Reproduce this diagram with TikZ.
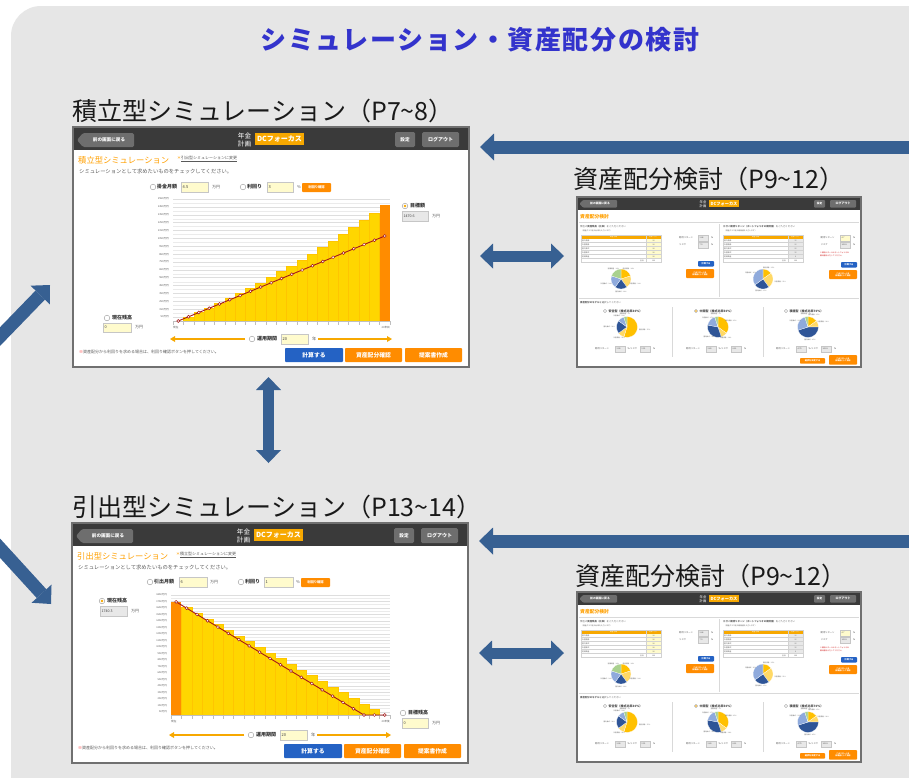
\documentclass[tikz,border=0pt]{standalone}
\usepackage{fontspec}
\setmainfont{Noto Sans CJK JP}
\usetikzlibrary{arrows.meta}
\definecolor{bggray}{RGB}{230,230,230}
\definecolor{arrblue}{RGB}{55,96,146}
\definecolor{ttlblue}{RGB}{51,51,204}
\definecolor{hdrgray}{RGB}{58,58,58}
\definecolor{frgray}{RGB}{112,112,112}
\definecolor{btngray}{RGB}{110,110,110}
\definecolor{dcorange}{RGB}{247,168,0}
\definecolor{btnorange}{RGB}{255,140,0}
\definecolor{ttlorange}{RGB}{255,160,0}
\definecolor{btnblue}{RGB}{36,98,196}
\definecolor{baryel}{RGB}{255,214,0}
\definecolor{barorg}{RGB}{255,140,0}
\definecolor{linered}{RGB}{165,25,25}
\definecolor{inyel}{RGB}{255,251,205}
\definecolor{ingray}{RGB}{232,232,232}
\definecolor{txtgray}{RGB}{90,90,90}
\definecolor{gridgray}{RGB}{222,222,222}
\definecolor{pyel}{RGB}{255,192,0}
\definecolor{plyel}{RGB}{255,217,102}
\definecolor{pdblue}{RGB}{47,85,151}
\definecolor{pgblue}{RGB}{143,170,220}
\definecolor{pgreen}{RGB}{169,209,142}
\newcommand\fsz[1]{\fontsize{#1}{#1}\selectfont}
\tikzset{
 shot/.style={draw=frgray, line width=2.4pt, fill=white, inner sep=0pt, outer sep=0pt, anchor=north west},
 lbl/.style={anchor=west, inner sep=0pt, font=\fsz{25}, text=black!90},
 wtxt/.style={text=white, inner sep=0pt},
 porarrow/.style={draw=dcorange, line width=1.8pt, arrows={-Triangle[width=6pt,length=5pt,line width=0pt]}},
 bigarrow/.style={draw=arrblue, line width=13pt, arrows={-Triangle[width=27pt,length=14pt,line width=0pt]}},
 dblarrow/.style={draw=arrblue, line width=11pt, arrows={Triangle[width=25pt,length=13pt,line width=0pt]-Triangle[width=25pt,length=13pt,line width=0pt]}},
}
\newcommand\Txt[3]{\node[anchor=west,inner sep=0pt,font=\fsz{#2},text=txtgray] at (#1) {#3};}
\newcommand\BTxt[3]{\node[anchor=west,inner sep=0pt,font=\fsz{#2}\bfseries,text=black!80] at (#1) {#3};}
\newcommand\RadioOff[2]{\filldraw[fill=white,draw=gray!80,line width=0.4pt] (#1) circle (#2);}
\newcommand\RadioOn[2]{\RadioOff{#1}{#2}\fill[dcorange] (#1) circle ({#2*0.5});}
\newcommand\InBox[7]{\filldraw[fill=#5,draw=gray!45,line width=0.3pt] (#1,#2) rectangle (#3,#4);
 \node[anchor=west,inner sep=0pt,font=\fsz{#7},text=black!75] at ({#1+1.5},{(#2+#4)/2}) {#6};}
\newcommand\Btn[7]{\fill[#5, rounded corners=0.8pt] (#1,#2) rectangle (#3,#4);
 \node[wtxt, font=\fsz{#7}\bfseries, align=center] at ({(#1+#3)/2},{(#2+#4)/2}) {#6};}
% pie: slices clockwise from the top; angles here are visual (canvas) angles
\newcommand\Pie[4]{%
 \foreach \sA/\sB/\sC/\sT in {#4}{%
  \pgfmathsetmacro\psa{90-3.6*\sA}%
  \pgfmathsetmacro\pea{90-3.6*\sB}%
  \pgfmathsetmacro\pma{(\psa+\pea)/2}%
  \pgfmathtruncatemacro\pan{mod(\pma+180+720,360)}%
  \filldraw[fill=\sC, draw=white, line width=0.2pt] (#1,#2) -- ++({cos(\psa)*#3},{-sin(\psa)*#3}) arc[start angle=\psa, end angle=\pea, radius=#3 pt] -- cycle;
  \path (#1,#2) ++({cos(\pma)*(#3+1.2)},{-sin(\pma)*(#3+1.2)}) node[anchor=\pan, inner sep=0.3pt, font=\fsz{1.6}, text=txtgray] {\sT};
 }}
\newcommand\AllocTable[4]{%
 \begin{scope}[shift={(#1,#2)}]
  \fill[#3] (65,3.5) rectangle (80,23.5);
  \fill[dcorange] (0,0) rectangle (80,3.5);
  \node[wtxt,font=\fsz{1.8}] at (32.5,1.75) {資産分類};
  \node[wtxt,font=\fsz{1.8}] at (72.5,1.75) {比率（\%）};
  \foreach \n/\vv [count=\kk] in {#4}{
   \draw[gray!35,line width=0.25pt] (0,{3.5+4*\kk}) -- (80,{3.5+4*\kk});
   \node[anchor=west,inner sep=0pt,font=\fsz{1.8},text=txtgray] at (1,{1.5+4*\kk}) {\n};
   \node[inner sep=0pt,font=\fsz{1.8},text=txtgray] at (72.5,{1.5+4*\kk}) {\vv};
  }
  \draw[gray!35,line width=0.25pt] (0,0) rectangle (80,27.5);
  \draw[gray!35,line width=0.25pt] (65,0) -- (65,27.5);
  \node[anchor=east,inner sep=0pt,font=\fsz{1.8},text=txtgray] at (63,25.5) {合計};
  \node[inner sep=0pt,font=\fsz{1.8},text=txtgray] at (72.5,25.5) {100};
 \end{scope}}
\newcommand\AllocCol[6]{%
 \ifnum#3=1 \RadioOn{{#1-22},114}{1.6pt}\else\RadioOff{{#1-22},114}{1.6pt}\fi
 \node[anchor=west,inner sep=0pt,font=\fsz{3}\bfseries,text=black!75] at ({#1-18.5},114) {#2};
 \Pie{#1}{130}{10.5}{#6}
 \Txt{{#1-32},152}{2.3}{期待リターン}
 \InBox{#1-12}{149}{#1-2}{155}{ingray}{#4}{2}
 \Txt{{#1+0.5},152}{2.3}{\%}
 \Txt{{#1+3},152}{2.3}{リスク}
 \InBox{#1+13}{149}{#1+23}{155}{ingray}{#5}{2}
 \Txt{{#1+26},152}{2.3}{\%}}
\newcommand\SimShot[4]{%
 \node[shot, minimum width=396pt, minimum height=240pt] (#2) at (#1) {};
 \begin{scope}[shift={(#1)}]
  \fill[hdrgray] (1.2,1.2) rectangle (394.8,23);
  \fill[btngray, rounded corners=1.5pt] (4,13) -- (10,6) -- (61,6) -- (61,20) -- (10,20) -- cycle;
  \node[wtxt,font=\fsz{4.6}\bfseries] at (36,13) {前の画面に戻る};
  \node[wtxt,font=\fsz{6.6}] at (171.5,8.8) {年金};
  \node[wtxt,font=\fsz{6.6}] at (171.5,16.6) {計画};
  \fill[dcorange] (182,6) rectangle (231,18);
  \node[wtxt,font=\fsz{7}\bfseries] at (206.5,12) {DCフォーカス};
  \fill[btngray, rounded corners=1.5pt] (322,5) rectangle (342,20);
  \node[wtxt,font=\fsz{4.6}\bfseries] at (332,12.5) {設定};
  \fill[btngray, rounded corners=1.5pt] (349,5) rectangle (386,20);
  \node[wtxt,font=\fsz{5}\bfseries] at (367.5,12.5) {ログアウト};
  \node[anchor=west,inner sep=0pt,text=ttlorange,font=\fsz{8.3}] at (5,33) {#3};
  \node[anchor=west,inner sep=0pt,text=txtgray,font=\fsz{4}] at (104,32) {{\color{ttlorange}＊}\underline{#4}};
  \Txt{6,44}{5.3}{シミュレーションとして求めたいものをチェックしてください。}
  \draw[porarrow] (172,212) -- (97,212);
  \draw[porarrow] (245,212) -- (319,212);
  \RadioOff{179,212}{2.8pt}
  \BTxt{184,212}{5}{運用期間}
  \InBox{208}{207}{235}{217}{inyel}{20}{4}
  \Txt{239,212}{4.2}{年}
  \node[anchor=west,inner sep=0pt,text=txtgray,font=\fsz{4}] at (6,225) {{\color{red}※}資産配分から利回りを求める場合は、利回り確認ボタンを押してください。};
  \Btn{212}{221}{270}{235}{btnblue}{計算する}{5.8}
  \Btn{272}{221}{329}{235}{btnorange}{資産配分確認}{5.8}
  \Btn{332}{221}{389}{235}{btnorange}{提案書作成}{5.8}
 \end{scope}}
\newcommand\AllocShot[2]{%
 \node[shot, minimum width=284pt, minimum height=170pt] (#2) at (#1) {};
 \begin{scope}[shift={(#1)}]
  \fill[hdrgray] (1.2,1.2) rectangle (282.8,12.5);
  \fill[btngray, rounded corners=1pt] (2.5,6.8) -- (6,3) -- (40,3) -- (40,10.6) -- (6,10.6) -- cycle;
  \node[wtxt,font=\fsz{2.8}\bfseries] at (23,6.8) {前の画面に戻る};
  \node[wtxt,font=\fsz{3.3}] at (126,4.8) {年金};
  \node[wtxt,font=\fsz{3.3}] at (126,9) {計画};
  \fill[dcorange] (132,3.2) rectangle (162,10.2);
  \node[wtxt,font=\fsz{4.2}\bfseries] at (147,6.7) {DCフォーカス};
  \fill[btngray, rounded corners=1pt] (237,3) rectangle (248,10.6);
  \node[wtxt,font=\fsz{2.6}\bfseries] at (242.5,6.8) {設定};
  \fill[btngray, rounded corners=1pt] (253,3) rectangle (279,10.6);
  \node[wtxt,font=\fsz{3}\bfseries] at (266,6.8) {ログアウト};
  \node[anchor=west,inner sep=0pt,text=ttlorange,font=\fsz{4.8}\bfseries] at (3,20) {資産配分検討};
  \draw[gray!30,line width=0.4pt] (2,25) -- (282,25);
  \draw[gray!30,line width=0.4pt] (142,27) -- (142,100);
  \draw[gray!30,line width=0.4pt] (2,101) -- (282,101);
  \draw[gray!30,line width=0.4pt] (95,110) -- (95,160);
  \draw[gray!30,line width=0.4pt] (186,110) -- (186,160);
  \Txt{3,30}{2.4}{現在の{\bfseries 資産残高（比率）}をご入力ください}
  \Txt{4,34}{1.8}{（資産クラス別の比率を入力します）}
  \AllocTable{4}{38}{inyel}{国内債券/20,外国債券/20,国内株式/20,外国株式/20,短期資産/20}
  \Txt{102,41}{2.3}{期待リターン}
  \InBox{121}{38}{131}{44}{ingray}{3.48}{2}
  \Txt{134,41}{2.3}{\%}
  \Txt{102,48}{2.3}{リスク}
  \InBox{121}{45}{131}{51}{ingray}{7.9}{2}
  \Txt{134,48}{2.3}{\%}
  \Btn{121}{64}{137}{69.5}{btnblue}{計算する}{2.2}
  \Btn{109}{72}{137}{81}{btnorange}{このリターンを\\目標値として採用}{1.9}
  \Pie{44}{82}{10}{0/20/pyel/国内債券：20\%,20/40/plyel/外国債券：20\%,40/60/pdblue/国内株式：20\%,60/80/pgblue/外国株式：20\%,80/100/pgreen/短期資産：20\%}
  \Txt{146,30}{2.4}{目標の{\bfseries 期待リターン（ポートフォリオの期待値）}をご入力ください}
  \Txt{147,34}{1.8}{（資産クラス別の期待値を入力します）}
  \AllocTable{146}{38}{ingray}{国内債券/15,外国債券/25,国内株式/25,外国株式/35,短期資産/0}
  \Txt{243.5,41}{2.3}{期待リターン}
  \InBox{263}{38}{273}{44}{inyel}{4.7}{2}
  \Txt{276,41}{2.3}{\%}
  \Txt{243.5,48}{2.3}{リスク}
  \InBox{263}{45}{273}{51}{ingray}{10.38}{2}
  \Txt{276,48}{2.3}{\%}
  \node[anchor=west,inner sep=0pt,font=\fsz{1.8},text=red!80!black] at (243,55.7) {※期待リターンはポートフォリオの};
  \node[anchor=west,inner sep=0pt,font=\fsz{1.8},text=red!80!black] at (243,58.8) {期待値を入力してください。};
  \Btn{264}{65}{280}{70.5}{btnblue}{計算する}{2.2}
  \Btn{252}{73}{280}{82}{btnorange}{このリターンを\\目標値として採用}{1.9}
  \Pie{186}{82}{10}{0/15/pyel/国内債券：15\%,15/40/plyel/外国債券：25\%,40/65/pdblue/国内株式：25\%,65/100/pgblue/外国株式：35\%}
  \Txt{3,106}{2.4}{{\bfseries 資産配分のモデル}を選択してください}
  \AllocCol{50}{安全型（株式比率30\%）}{0}{3.00}{5.51}{0/55/pyel/国内債券：55\%,55/65/plyel/外国債券：10\%,65/85/pdblue/国内株式：20\%,85/95/pgblue/外国株式：10\%,95/100/pgreen/短期資産：5\%}
  \AllocCol{141}{中間型（株式比率50\%）}{1}{3.80}{8.11}{0/35/pyel/国内債券：35\%,35/45/plyel/外国債券：10\%,45/78/pdblue/国内株式：33\%,78/95/pgblue/外国株式：17\%,95/100/pgreen/短期資産：5\%}
  \AllocCol{231}{積極型（株式比率70\%）}{0}{4.70}{10.38}{0/15/pyel/国内債券：15\%,15/25/plyel/外国債券：10\%,25/70/pdblue/国内株式：45\%,70/95/pgblue/外国株式：25\%,95/100/pgreen/短期資産：5\%}
  \Btn{223}{161}{248}{166.7}{btnorange}{選択を決定する}{2.2}
  \Btn{252}{158}{280}{167.7}{btnorange}{このリターンを\\目標値として採用}{1.9}
 \end{scope}}
\begin{document}
\begin{tikzpicture}[x=1pt,y=-1pt]
\useasboundingbox (0,0) rectangle (909,777);
\clip (0,0) rectangle (909,777);
\fill[white] (0,0) rectangle (909,777);
\fill[bggray, rounded corners=30pt] (11,6) rectangle (990,860);
\node[font=\fsz{26}\bfseries\addfontfeatures{LetterSpace=6}, text=ttlblue, inner sep=0pt] (title) at (480,40) {シミュレーション・資産配分の検討};
\node[lbl] (lbl1) at (72,111) {積立型シミュレーション（P7\textasciitilde 8）};
\node[lbl] (lbl2) at (573,179) {資産配分検討（P9\textasciitilde 12）};
\node[lbl] (lbl3) at (72,507) {引出型シミュレーション（P13\textasciitilde 14）};
\node[lbl] (lbl4) at (575,576) {資産配分検討（P9\textasciitilde 12）};
% ---------- screenshot 1 ----------
\SimShot{73,127}{ss1}{積立型シミュレーション}{引出型シミュレーションに変更}
\RadioOff{153,187}{2.8pt}
\BTxt{157,187}{5}{掛金月額}
\InBox{181}{182}{208}{192}{inyel}{4.5}{4}
\Txt{212,187}{4}{万円}
\RadioOff{243,187}{2.8pt}
\BTxt{247,187}{5}{利回り}
\InBox{267}{182}{293}{192}{inyel}{3}{4}
\Txt{297,187}{4}{\%}
\Btn{302}{183}{331}{192}{btnorange}{利回り確認}{3.3}
\foreach \vv in {100,200,...,1500} {\draw[gridgray!60, line width=0.3pt] (173,{321-0.0787*\vv}) -- (390,{321-0.0787*\vv});}
\foreach \vv in {50,150,...,1550} {
  \draw[gridgray, line width=0.45pt] (173,{321-0.0787*\vv}) -- (390,{321-0.0787*\vv});
  \node[anchor=east,inner sep=0pt,font=\fsz{2.6},text=txtgray] at (169,{321-0.0787*\vv}) {\vv 万円};
}
\foreach \i in {1,...,19} {
  \pgfmathsetmacro\yy{321-0.0787*1470.6*(1.03^\i-1)/(1.03^20-1)}
  \filldraw[fill=baryel, draw=baryel!80!orange, line width=0.3pt] ({173+10.33*\i},\yy) rectangle ({173+10.33*(\i+1)},321);
}
\fill[barorg] ({173+10.33*20},{321-0.0787*1470.6}) rectangle (390,321);
\draw[gray!50, line width=0.4pt] (173,321) -- (390,321);
\foreach \i in {0,...,21} \draw[gray!50, line width=0.3pt] ({173+10.33*\i},321) -- ++(0,4);
\draw[linered, line width=0.9pt] (178.2,321) -- (384.8,{321-0.0787*1080});
\foreach \i in {0,...,20} \filldraw[fill=white, draw=linered, line width=0.5pt] ({178.165+10.33*\i},{321-0.0787*54*\i}) circle (1.5pt);
\node[anchor=north west, inner sep=0pt, font=\fsz{2.6}, text=txtgray] at (173,326) {現在};
\node[anchor=north east, inner sep=0pt, font=\fsz{2.6}, text=txtgray] at (390,326) {20年目};
\RadioOn{405,206}{2.8pt}
\BTxt{410,206}{5}{目標額}
\InBox{402}{211}{428}{221}{ingray}{1470.6}{3.6}
\Txt{432,216}{4}{万円}
\RadioOff{107,318}{2.8pt}
\BTxt{112,318}{5}{現在残高}
\InBox{103}{323}{131}{332}{inyel}{0}{3.8}
\Txt{135,327.5}{4}{万円}
% ---------- screenshot 3 ----------
\SimShot{72,523}{ss3}{引出型シミュレーション}{積立型シミュレーションに変更}
\RadioOff{150,582}{2.8pt}
\BTxt{154,582}{5}{引出月額}
\InBox{179}{577}{207}{587}{inyel}{6}{4}
\Txt{210,582}{4}{万円}
\RadioOff{241,582}{2.8pt}
\BTxt{245,582}{5}{利回り}
\InBox{264}{577}{293}{587}{inyel}{1}{4}
\Txt{296,582}{4}{\%}
\Btn{301}{578}{330}{587}{btnorange}{利回り確認}{3.3}
\foreach \vv in {100,200,...,1800} {\draw[gridgray!60, line width=0.3pt] (171,{715-0.065*\vv}) -- (390,{715-0.065*\vv});}
\foreach \vv in {50,150,...,1850} {
  \draw[gridgray, line width=0.45pt] (171,{715-0.065*\vv}) -- (390,{715-0.065*\vv});
  \node[anchor=east,inner sep=0pt,font=\fsz{2.5},text=txtgray] at (167,{715-0.065*\vv}) {\vv 万円};
}
\fill[barorg] (171,{715-0.065*1740.3}) rectangle (181.43,715);
\foreach \i in {1,...,19} {
  \pgfmathsetmacro\yy{715-0.065*1740.3*(1-\i/20)}
  \filldraw[fill=baryel, draw=baryel!80!orange, line width=0.3pt] ({171+10.43*\i},\yy) rectangle ({171+10.43*(\i+1)},715);
}
\draw[gray!50, line width=0.4pt] (171,715) -- (390,715);
\foreach \i in {0,...,21} \draw[gray!50, line width=0.3pt] ({171+10.43*\i},715) -- ++(0,4);
\draw[linered, line width=0.9pt] (176.2,{715-0.065*1740.3}) -- (363.96,715) -- (384.8,715);
\foreach \i in {0,...,20} {
  \pgfmathsetmacro\yy{715-0.065*max(0,1740.3*(1-\i/18))}
  \filldraw[fill=white, draw=linered, line width=0.5pt] ({176.2+10.43*\i},\yy) circle (1.5pt);
}
\node[anchor=north west, inner sep=0pt, font=\fsz{2.6}, text=txtgray] at (171,720) {現在};
\node[anchor=north east, inner sep=0pt, font=\fsz{2.6}, text=txtgray] at (390,720) {20年後};
\RadioOn{102,601}{2.8pt}
\BTxt{107,601}{5}{現在残高}
\InBox{100}{606}{127}{616}{ingray}{1740.3}{3.6}
\Txt{131,611}{4}{万円}
\RadioOff{403,713}{2.8pt}
\BTxt{408,713}{5}{目標残高}
\InBox{402}{718}{428}{728}{inyel}{0}{3.8}
\Txt{432,723}{4}{万円}
% ---------- screenshots 2 and 4 ----------
\AllocShot{577,197}{ss2}
\AllocShot{577,592}{ss4}
% ---------- connectors ----------
\coordinate (rt) at (915,147);
\coordinate (rb) at (915,541);
\coordinate (y1) at (0,256);
\coordinate (y2) at (0,653);
\coordinate (vx) at (268.5,0);
\coordinate (v2) at (268.5,463);
\coordinate (dl1) at (-12,349);
\coordinate (dt1) at (50,285);
\coordinate (dl2) at (-12,535);
\coordinate (dt2) at (51,604);
\draw[bigarrow, shorten >=11pt] (rt) -- (ss1.east |- rt);
\draw[dblarrow, shorten <=11pt, shorten >=13pt] (ss1.east |- y1) -- (ss2.west |- y1);
\draw[dblarrow, shorten <=10pt] (ss1.south -| vx) -- (v2);
\draw[bigarrow, shorten >=11pt] (rb) -- (ss3.east |- rb);
\draw[dblarrow, shorten <=11pt, shorten >=13pt] (ss3.east |- y2) -- (ss4.west |- y2);
\draw[bigarrow] (dl1) -- (dt1);
\draw[bigarrow] (dl2) -- (dt2);
\end{tikzpicture}
\end{document}
